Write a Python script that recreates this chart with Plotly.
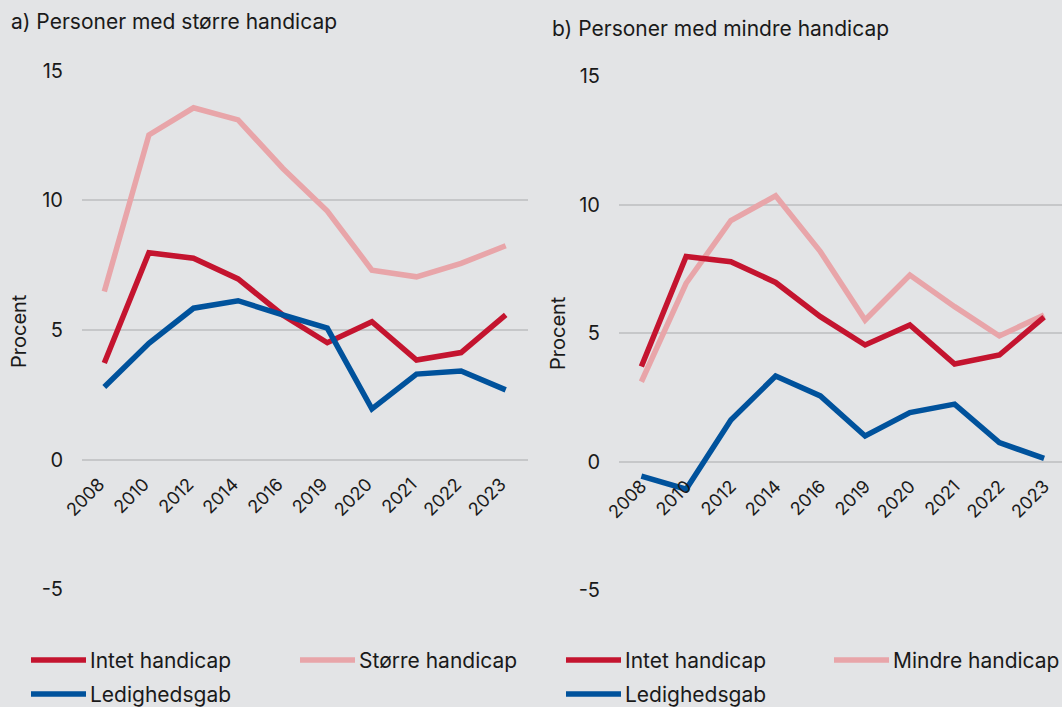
import plotly.graph_objects as go

years = ["2008", "2010", "2012", "2014", "2016", "2019", "2020", "2021", "2022", "2023"]

# Panel a) Personer med større handicap
intet_a = [3.73, 7.98, 7.77, 6.97, 5.58, 4.51, 5.32, 3.84, 4.13, 5.58]
stoerre = [6.48, 12.52, 13.57, 13.10, 11.24, 9.59, 7.31, 7.05, 7.57, 8.25]
gab_a = [2.80, 4.49, 5.84, 6.13, 5.58, 5.07, 1.96, 3.30, 3.42, 2.69]

# Panel b) Personer med mindre handicap
intet_b = [3.70, 7.98, 7.78, 6.97, 5.64, 4.54, 5.32, 3.80, 4.15, 5.62]
mindre = [3.11, 6.94, 9.38, 10.34, 8.17, 5.51, 7.26, 6.03, 4.89, 5.71]
gab_b = [-0.56, -1.07, 1.62, 3.33, 2.56, 1.00, 1.91, 2.24, 0.74, 0.13]

ytick_vals = [-5, 0, 5, 10, 15]
ytick_text = ["-5", "0", "5", "10", "15"]

RED = "#c4142f"
PINK = "#e8a5a9"
BLUE = "#00529c"
BG = "#e3e4e6"
GRID = "#c6c7c9"
TXT = "#1a1a1a"

W, H = 1062, 707
def fx(p):
    return p / W
def fy(p):
    return 1 - p / H

FONT = "Inter, Roboto, Arial, sans-serif"

fig = go.Figure()

panel_a = [("Intet handicap", intet_a, RED), ("Større handicap", stoerre, PINK), ("Ledighedsgab", gab_a, BLUE)]
panel_b = [("Intet handicap", intet_b, RED), ("Mindre handicap", mindre, PINK), ("Ledighedsgab", gab_b, BLUE)]

for name, vals, col in [panel_a[1], panel_a[0], panel_a[2]]:
    fig.add_trace(go.Scatter(x=years, y=vals, mode="lines", name=name,
                             line=dict(color=col, width=5.5), xaxis="x", yaxis="y",
                             showlegend=False))
for name, vals, col in [panel_b[1], panel_b[0], panel_b[2]]:
    fig.add_trace(go.Scatter(x=years, y=vals, mode="lines", name=name,
                             line=dict(color=col, width=5.5), xaxis="x2", yaxis="y2",
                             showlegend=False))

# geometry (pixels)
a_left, a_right, a_top, a_bot = 82, 528, 70.7, 589.3
b_left, b_right, b_top, b_bot = 619, 1062, 76, 590.3
a_zero = a_bot - (a_bot - a_top) * 5 / 20
b_zero = b_bot - (b_bot - b_top) * 5 / 20

yaxis_common = dict(range=[-5, 15], tickvals=ytick_vals, ticktext=ytick_text,
                    showgrid=True, gridcolor=GRID, gridwidth=1.5, zeroline=False,
                    showline=False, ticks="", ticklabelstandoff=18, automargin=False,
                    tickfont=dict(family=FONT, size=20, color=TXT))
xaxis_common = dict(type="category", showgrid=False, zeroline=False, showline=False,
                    ticks="outside", ticklen=6, tickcolor=BG, tickangle=-45, automargin=False,
                    tickfont=dict(family=FONT, size=18, color=TXT))

fig.update_layout(
    width=W, height=H,
    margin=dict(l=0, r=0, t=0, b=0, autoexpand=False),
    paper_bgcolor=BG, plot_bgcolor=BG,
    xaxis=dict(domain=[fx(a_left), fx(a_right)], anchor="free", position=fy(a_zero),
               range=[-0.5, 9.5], ticklabelshift=-5, **xaxis_common),
    yaxis=dict(domain=[fy(a_bot), fy(a_top)], anchor="x", **yaxis_common),
    xaxis2=dict(domain=[fx(b_left), 1.0], anchor="free", position=fy(b_zero),
                range=[-0.5, 9.4], **xaxis_common),
    yaxis2=dict(domain=[fy(b_bot), fy(b_top)], anchor="x2", **yaxis_common),
    showlegend=False,
)

annotations = [
    dict(text="a) Personer med større handicap", x=fx(9), y=fy(22), xref="paper", yref="paper",
         xanchor="left", yanchor="middle", showarrow=False, font=dict(family=FONT, size=21, color=TXT)),
    dict(text="b) Personer med mindre handicap", x=fx(550), y=fy(29), xref="paper", yref="paper",
         xanchor="left", yanchor="middle", showarrow=False, font=dict(family=FONT, size=21, color=TXT)),
    dict(text="Procent", x=fx(19), y=fy(331), xref="paper", yref="paper", textangle=-90,
         xanchor="center", yanchor="middle", showarrow=False, font=dict(family=FONT, size=20, color=TXT)),
    dict(text="Procent", x=fx(558), y=fy(333), xref="paper", yref="paper", textangle=-90,
         xanchor="center", yanchor="middle", showarrow=False, font=dict(family=FONT, size=20, color=TXT)),
]

legend_items = [
    (panel_a[0][0], RED, 31, 660), (panel_a[1][0], PINK, 300, 660), (panel_a[2][0], BLUE, 31, 694),
    (panel_b[0][0], RED, 566, 660), (panel_b[1][0], PINK, 834, 660), (panel_b[2][0], BLUE, 566, 694),
]
shapes = []
for name, col, x0, yc in legend_items:
    shapes.append(dict(type="line", xref="paper", yref="paper", x0=fx(x0), x1=fx(x0 + 55),
                       y0=fy(yc), y1=fy(yc), line=dict(color=col, width=5.5)))
    annotations.append(dict(text=name, x=fx(x0 + 57), y=fy(yc), xref="paper", yref="paper",
                            xanchor="left", yanchor="middle", showarrow=False,
                            font=dict(family=FONT, size=21, color=TXT)))

fig.update_layout(annotations=annotations, shapes=shapes)

fig.write_html("out.html", config={"displayModeBar": False},
               post_script="document.body.style.margin='0';document.body.style.overflow='hidden';")
